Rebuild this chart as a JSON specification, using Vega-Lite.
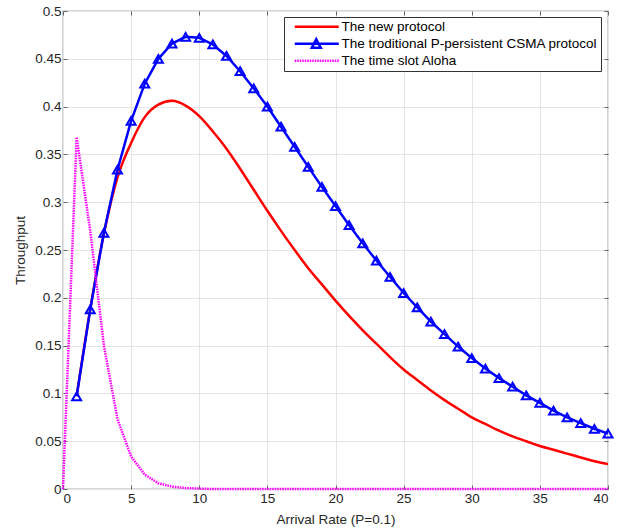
{
  "$schema": "https://vega.github.io/schema/vega-lite/v6.json",
  "width": 545,
  "height": 478,
  "autosize": {"type": "none"},
  "padding": {"left": 63, "top": 11, "right": 16, "bottom": 40},
  "background": "white",
  "config": {
    "view": {"stroke": "#666666", "strokeWidth": 1.2},
    "font": "Liberation Sans",
    "axis": {
      "labelFont": "Liberation Sans",
      "labelFontSize": 13.5,
      "labelColor": "#262626",
      "titleFont": "Liberation Sans",
      "titleFontSize": 13.5,
      "titleFontWeight": "normal",
      "titleColor": "#262626",
      "tickColor": "#666666",
      "tickWidth": 1,
      "domain": false,
      "gridColor": "#e4e4e4",
      "gridWidth": 1
    }
  },
  "data": {
    "values": [
      {"x": 1, "y": 0.097, "s": "The new protocol"},
      {"x": 2, "y": 0.188, "s": "The new protocol"},
      {"x": 3, "y": 0.267, "s": "The new protocol"},
      {"x": 4, "y": 0.326, "s": "The new protocol"},
      {"x": 5, "y": 0.362, "s": "The new protocol"},
      {"x": 6, "y": 0.389, "s": "The new protocol"},
      {"x": 7, "y": 0.402, "s": "The new protocol"},
      {"x": 8, "y": 0.406, "s": "The new protocol"},
      {"x": 9, "y": 0.401, "s": "The new protocol"},
      {"x": 10, "y": 0.390, "s": "The new protocol"},
      {"x": 11, "y": 0.374, "s": "The new protocol"},
      {"x": 12, "y": 0.356, "s": "The new protocol"},
      {"x": 13, "y": 0.335, "s": "The new protocol"},
      {"x": 14, "y": 0.313, "s": "The new protocol"},
      {"x": 15, "y": 0.291, "s": "The new protocol"},
      {"x": 16, "y": 0.270, "s": "The new protocol"},
      {"x": 17, "y": 0.250, "s": "The new protocol"},
      {"x": 18, "y": 0.231, "s": "The new protocol"},
      {"x": 19, "y": 0.214, "s": "The new protocol"},
      {"x": 20, "y": 0.197, "s": "The new protocol"},
      {"x": 21, "y": 0.181, "s": "The new protocol"},
      {"x": 22, "y": 0.166, "s": "The new protocol"},
      {"x": 23, "y": 0.152, "s": "The new protocol"},
      {"x": 24, "y": 0.138, "s": "The new protocol"},
      {"x": 25, "y": 0.125, "s": "The new protocol"},
      {"x": 26, "y": 0.114, "s": "The new protocol"},
      {"x": 27, "y": 0.103, "s": "The new protocol"},
      {"x": 28, "y": 0.093, "s": "The new protocol"},
      {"x": 29, "y": 0.084, "s": "The new protocol"},
      {"x": 30, "y": 0.075, "s": "The new protocol"},
      {"x": 31, "y": 0.068, "s": "The new protocol"},
      {"x": 32, "y": 0.061, "s": "The new protocol"},
      {"x": 33, "y": 0.055, "s": "The new protocol"},
      {"x": 34, "y": 0.050, "s": "The new protocol"},
      {"x": 35, "y": 0.045, "s": "The new protocol"},
      {"x": 36, "y": 0.041, "s": "The new protocol"},
      {"x": 37, "y": 0.037, "s": "The new protocol"},
      {"x": 38, "y": 0.033, "s": "The new protocol"},
      {"x": 39, "y": 0.029, "s": "The new protocol"},
      {"x": 40, "y": 0.026, "s": "The new protocol"},
      {"x": 1, "y": 0.097, "s": "The troditional P-persistent CSMA protocol"},
      {"x": 2, "y": 0.188, "s": "The troditional P-persistent CSMA protocol"},
      {"x": 3, "y": 0.268, "s": "The troditional P-persistent CSMA protocol"},
      {"x": 4, "y": 0.334, "s": "The troditional P-persistent CSMA protocol"},
      {"x": 5, "y": 0.385, "s": "The troditional P-persistent CSMA protocol"},
      {"x": 6, "y": 0.424, "s": "The troditional P-persistent CSMA protocol"},
      {"x": 7, "y": 0.450, "s": "The troditional P-persistent CSMA protocol"},
      {"x": 8, "y": 0.466, "s": "The troditional P-persistent CSMA protocol"},
      {"x": 9, "y": 0.473, "s": "The troditional P-persistent CSMA protocol"},
      {"x": 10, "y": 0.472, "s": "The troditional P-persistent CSMA protocol"},
      {"x": 11, "y": 0.465, "s": "The troditional P-persistent CSMA protocol"},
      {"x": 12, "y": 0.453, "s": "The troditional P-persistent CSMA protocol"},
      {"x": 13, "y": 0.437, "s": "The troditional P-persistent CSMA protocol"},
      {"x": 14, "y": 0.419, "s": "The troditional P-persistent CSMA protocol"},
      {"x": 15, "y": 0.400, "s": "The troditional P-persistent CSMA protocol"},
      {"x": 16, "y": 0.379, "s": "The troditional P-persistent CSMA protocol"},
      {"x": 17, "y": 0.358, "s": "The troditional P-persistent CSMA protocol"},
      {"x": 18, "y": 0.337, "s": "The troditional P-persistent CSMA protocol"},
      {"x": 19, "y": 0.316, "s": "The troditional P-persistent CSMA protocol"},
      {"x": 20, "y": 0.296, "s": "The troditional P-persistent CSMA protocol"},
      {"x": 21, "y": 0.276, "s": "The troditional P-persistent CSMA protocol"},
      {"x": 22, "y": 0.257, "s": "The troditional P-persistent CSMA protocol"},
      {"x": 23, "y": 0.239, "s": "The troditional P-persistent CSMA protocol"},
      {"x": 24, "y": 0.222, "s": "The troditional P-persistent CSMA protocol"},
      {"x": 25, "y": 0.205, "s": "The troditional P-persistent CSMA protocol"},
      {"x": 26, "y": 0.190, "s": "The troditional P-persistent CSMA protocol"},
      {"x": 27, "y": 0.175, "s": "The troditional P-persistent CSMA protocol"},
      {"x": 28, "y": 0.162, "s": "The troditional P-persistent CSMA protocol"},
      {"x": 29, "y": 0.149, "s": "The troditional P-persistent CSMA protocol"},
      {"x": 30, "y": 0.137, "s": "The troditional P-persistent CSMA protocol"},
      {"x": 31, "y": 0.126, "s": "The troditional P-persistent CSMA protocol"},
      {"x": 32, "y": 0.116, "s": "The troditional P-persistent CSMA protocol"},
      {"x": 33, "y": 0.107, "s": "The troditional P-persistent CSMA protocol"},
      {"x": 34, "y": 0.098, "s": "The troditional P-persistent CSMA protocol"},
      {"x": 35, "y": 0.090, "s": "The troditional P-persistent CSMA protocol"},
      {"x": 36, "y": 0.082, "s": "The troditional P-persistent CSMA protocol"},
      {"x": 37, "y": 0.075, "s": "The troditional P-persistent CSMA protocol"},
      {"x": 38, "y": 0.069, "s": "The troditional P-persistent CSMA protocol"},
      {"x": 39, "y": 0.063, "s": "The troditional P-persistent CSMA protocol"},
      {"x": 40, "y": 0.058, "s": "The troditional P-persistent CSMA protocol"},
      {"x": 0, "y": 0, "s": "The time slot Aloha"},
      {"x": 1, "y": 0.368, "s": "The time slot Aloha"},
      {"x": 2, "y": 0.270, "s": "The time slot Aloha"},
      {"x": 3, "y": 0.150, "s": "The time slot Aloha"},
      {"x": 4, "y": 0.073, "s": "The time slot Aloha"},
      {"x": 5, "y": 0.034, "s": "The time slot Aloha"},
      {"x": 6, "y": 0.015, "s": "The time slot Aloha"},
      {"x": 7, "y": 0.006, "s": "The time slot Aloha"},
      {"x": 8, "y": 0.0025, "s": "The time slot Aloha"},
      {"x": 9, "y": 0.001, "s": "The time slot Aloha"},
      {"x": 10, "y": 0.0004, "s": "The time slot Aloha"},
      {"x": 11, "y": 0, "s": "The time slot Aloha"},
      {"x": 12, "y": 0, "s": "The time slot Aloha"},
      {"x": 13, "y": 0, "s": "The time slot Aloha"},
      {"x": 14, "y": 0, "s": "The time slot Aloha"},
      {"x": 15, "y": 0, "s": "The time slot Aloha"},
      {"x": 16, "y": 0, "s": "The time slot Aloha"},
      {"x": 17, "y": 0, "s": "The time slot Aloha"},
      {"x": 18, "y": 0, "s": "The time slot Aloha"},
      {"x": 19, "y": 0, "s": "The time slot Aloha"},
      {"x": 20, "y": 0, "s": "The time slot Aloha"},
      {"x": 21, "y": 0, "s": "The time slot Aloha"},
      {"x": 22, "y": 0, "s": "The time slot Aloha"},
      {"x": 23, "y": 0, "s": "The time slot Aloha"},
      {"x": 24, "y": 0, "s": "The time slot Aloha"},
      {"x": 25, "y": 0, "s": "The time slot Aloha"},
      {"x": 26, "y": 0, "s": "The time slot Aloha"},
      {"x": 27, "y": 0, "s": "The time slot Aloha"},
      {"x": 28, "y": 0, "s": "The time slot Aloha"},
      {"x": 29, "y": 0, "s": "The time slot Aloha"},
      {"x": 30, "y": 0, "s": "The time slot Aloha"},
      {"x": 31, "y": 0, "s": "The time slot Aloha"},
      {"x": 32, "y": 0, "s": "The time slot Aloha"},
      {"x": 33, "y": 0, "s": "The time slot Aloha"},
      {"x": 34, "y": 0, "s": "The time slot Aloha"},
      {"x": 35, "y": 0, "s": "The time slot Aloha"},
      {"x": 36, "y": 0, "s": "The time slot Aloha"},
      {"x": 37, "y": 0, "s": "The time slot Aloha"},
      {"x": 38, "y": 0, "s": "The time slot Aloha"},
      {"x": 39, "y": 0, "s": "The time slot Aloha"},
      {"x": 40, "y": 0, "s": "The time slot Aloha"}
    ]
  },
  "layer": [
    {
      "transform": [{"filter": "datum.s == 'The new protocol'"}],
      "mark": {"type": "line", "strokeWidth": 2.5, "interpolate": "monotone", "clip": true},
      "encoding": {
        "x": {"field": "x", "type": "quantitative", "scale": {"domain": [0, 40], "nice": false},
          "axis": {"orient": "bottom", "values": [0,5,10,15,20,25,30,35,40], "grid": true, "tickSize": -4, "labelPadding": 6, "title": "Arrival Rate (P=0.1)", "titleY": 34, "titleBaseline": "alphabetic"}},
        "y": {"field": "y", "type": "quantitative", "scale": {"domain": [0, 0.5], "nice": false},
          "axis": {"orient": "left", "values": [0,0.05,0.1,0.15,0.2,0.25,0.3,0.35,0.4,0.45,0.5], "format": "~g", "grid": true, "tickSize": -4, "labelPadding": 6, "title": "Throughput", "titleX": -43, "titleBaseline": "middle"}},
        "color": {"field": "s", "type": "nominal",
          "scale": {"domain": ["The new protocol", "The troditional P-persistent CSMA protocol", "The time slot Aloha"], "range": ["#ff0000", "#0000ff", "#ff00ff"]},
          "legend": {
            "title": null, "orient": "none", "legendX": 221, "legendY": 6,
            "fillColor": "white", "strokeColor": "#333333", "padding": 3,
            "labelFont": "Liberation Sans", "labelFontSize": 13.5, "labelColor": "#000000", "labelLimit": 400,
            "symbolType": "stroke", "symbolSize": 100, "symbolStrokeWidth": 2.5, "rowPadding": 0, "labelOffset": 41,
            "encode": {
              "symbols": {"update": {
                "shape": {"signal": "datum.value == 'The troditional P-persistent CSMA protocol' ? 'M0.2,0H9M3.6,0.8L4.5,-0.9L5.4,0.8Z' : 'M0.2,0H9'"},
                "strokeDash": {"signal": "datum.value == 'The time slot Aloha' ? [1.5,1] : [1,0]"}
              }}
            }
          }}
      }
    },
    {
      "transform": [{"filter": "datum.s == 'The troditional P-persistent CSMA protocol'"}],
      "mark": {"type": "line", "strokeWidth": 2.5, "clip": true},
      "encoding": {
        "x": {"field": "x", "type": "quantitative", "axis": null},
        "y": {"field": "y", "type": "quantitative", "axis": null},
        "color": {"field": "s", "type": "nominal"}
      }
    },
    {
      "transform": [{"filter": "datum.s == 'The troditional P-persistent CSMA protocol'"}],
      "mark": {"type": "point", "shape": "triangle-up", "filled": false, "size": 80, "strokeWidth": 2, "opacity": 1, "clip": false},
      "encoding": {
        "x": {"field": "x", "type": "quantitative",
          "axis": {"orient": "top", "values": [0,5,10,15,20,25,30,35,40], "labels": false, "grid": false, "tickSize": -4, "title": null}},
        "y": {"field": "y", "type": "quantitative",
          "axis": {"orient": "right", "values": [0,0.05,0.1,0.15,0.2,0.25,0.3,0.35,0.4,0.45,0.5], "labels": false, "grid": false, "tickSize": -4, "title": null}},
        "color": {"field": "s", "type": "nominal"}
      }
    },
    {
      "transform": [{"filter": "datum.s == 'The time slot Aloha'"}],
      "mark": {"type": "line", "strokeWidth": 2.5, "strokeDash": [1.5, 1], "clip": false},
      "encoding": {
        "x": {"field": "x", "type": "quantitative", "axis": null},
        "y": {"field": "y", "type": "quantitative", "axis": null},
        "color": {"field": "s", "type": "nominal"}
      }
    }
  ],
  "resolve": {"axis": {"x": "independent", "y": "independent"}}
}
